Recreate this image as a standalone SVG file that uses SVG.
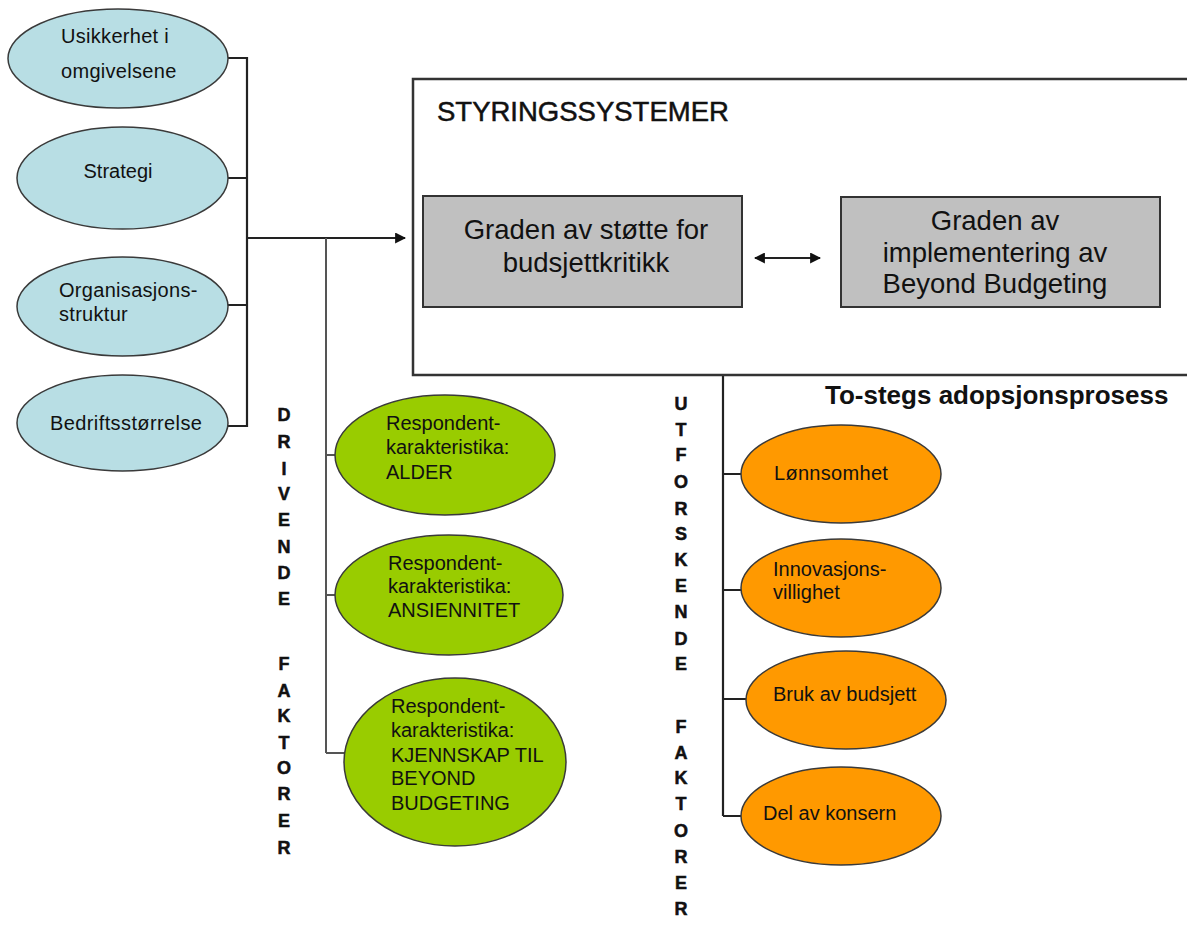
<svg xmlns="http://www.w3.org/2000/svg" width="1187" height="925" viewBox="0 0 1187 925">
<defs>
<style>
.t{font-family:"Liberation Sans",Arial,sans-serif;fill:#111;}
.e{font-size:20px;}
.g{font-size:27.5px;}
.v{font-size:18px;font-weight:bold;text-anchor:middle;stroke:#111;stroke-width:0.5;}
.blue{fill:#b8dee4;stroke:#3a3a3a;stroke-width:1.5;}
.green{fill:#99cc00;stroke:#3a3a3a;stroke-width:1.5;}
.orange{fill:#ff9900;stroke:#3a3a3a;stroke-width:1.5;}
.box{fill:#c0c0c0;stroke:#333;stroke-width:2;}
.c{fill:none;stroke:#222;stroke-width:2.2;}
.cg{fill:none;stroke:#555;stroke-width:2;}
</style>
<marker id="ah" viewBox="0 0 10 10" refX="9" refY="5" markerWidth="5" markerHeight="5" orient="auto-start-reverse" markerUnits="strokeWidth">
<path d="M0,0 L10,5 L0,10 z" fill="#111"/>
</marker>
</defs>
<rect width="1187" height="925" fill="#fff"/>

<g id="connectors">
<path class="c" d="M228,58 H247 M228,178 H247 M228,305 H247 M228,426 H247 M247,57 V427"/>
<path class="c" d="M247,238 H405" marker-end="url(#ah)"/>
<path class="cg" d="M326,238 V753 M326,455 H335 M326,595 H335 M326,753 H345"/>
<path class="c" d="M723,375 V816 M723,474 H741 M723,590 H741 M723,699 H746 M723,816 H741"/>
<path class="c" d="M755,258 H820" stroke-width="2" marker-start="url(#ah)" marker-end="url(#ah)"/>
</g>

<g id="styringssystemer">
<path d="M1190,79 H413 V375 H1190" fill="none" stroke="#333" stroke-width="2.5"/>
<text class="t" x="437" y="121" font-size="27.5" stroke="#111" stroke-width="0.5">STYRINGSSYSTEMER</text>
</g>

<g id="budsjettkritikk">
<rect class="box" x="423" y="196" width="319" height="111"/>
<text class="t g" text-anchor="middle" x="586" y="239">Graden av støtte for</text>
<text class="t g" text-anchor="middle" x="586" y="272">budsjettkritikk</text>
</g>

<g id="beyond-budgeting">
<rect class="box" x="841" y="197" width="319" height="110"/>
<text class="t g" text-anchor="middle" x="995" y="230">Graden av</text>
<text class="t g" text-anchor="middle" x="995" y="262">implementering av</text>
<text class="t g" text-anchor="middle" x="995" y="293">Beyond Budgeting</text>
</g>

<g id="usikkerhet">
<ellipse class="blue" cx="118" cy="58.5" rx="110" ry="49.5"/>
<text class="t e" x="61" y="43" letter-spacing="0.3">Usikkerhet i</text>
<text class="t e" x="61" y="78" letter-spacing="0.3">omgivelsene</text>
</g>
<g id="strategi">
<ellipse class="blue" cx="122.5" cy="178" rx="105.5" ry="51"/>
<text class="t e" x="118" y="178" text-anchor="middle">Strategi</text>
</g>
<g id="organisasjonsstruktur">
<ellipse class="blue" cx="122.5" cy="306.5" rx="105.5" ry="49.5"/>
<text class="t e" x="59" y="297" letter-spacing="0.3">Organisasjons-</text>
<text class="t e" x="59" y="321" letter-spacing="0.3">struktur</text>
</g>
<g id="bedriftsstorrelse">
<ellipse class="blue" cx="122.5" cy="423" rx="105.5" ry="48"/>
<text class="t e" x="50" y="430" letter-spacing="0.4">Bedriftsstørrelse</text>
</g>

<g id="drivende-faktorer">
<text class="t v" x="284" y="421">D</text>
<text class="t v" x="284" y="448">R</text>
<text class="t v" x="284" y="475">I</text>
<text class="t v" x="284" y="500">V</text>
<text class="t v" x="284" y="526">E</text>
<text class="t v" x="284" y="553">N</text>
<text class="t v" x="284" y="579">D</text>
<text class="t v" x="284" y="605">E</text>
<text class="t v" x="284" y="670">F</text>
<text class="t v" x="284" y="697">A</text>
<text class="t v" x="284" y="722">K</text>
<text class="t v" x="284" y="749">T</text>
<text class="t v" x="284" y="774">O</text>
<text class="t v" x="284" y="800">R</text>
<text class="t v" x="284" y="827">E</text>
<text class="t v" x="284" y="854">R</text>
</g>

<g id="alder">
<ellipse class="green" cx="445" cy="455" rx="110" ry="60"/>
<text class="t e" x="386" y="430">Respondent-</text>
<text class="t e" x="386" y="454">karakteristika:</text>
<text class="t e" x="386" y="479">ALDER</text>
</g>
<g id="ansiennitet">
<ellipse class="green" cx="449" cy="595" rx="114" ry="60"/>
<text class="t e" x="388" y="570">Respondent-</text>
<text class="t e" x="388" y="593">karakteristika:</text>
<text class="t e" x="388" y="617">ANSIENNITET</text>
</g>
<g id="kjennskap">
<ellipse class="green" cx="455" cy="762" rx="111" ry="84"/>
<text class="t e" x="391" y="713">Respondent-</text>
<text class="t e" x="391" y="737">karakteristika:</text>
<text class="t e" x="391" y="762">KJENNSKAP TIL</text>
<text class="t e" x="391" y="785">BEYOND</text>
<text class="t e" x="391" y="810">BUDGETING</text>
</g>

<g id="to-stegs">
<text class="t" x="825" y="404" font-size="26" font-weight="bold">To-stegs adopsjonsprosess</text>
</g>

<g id="utforskende-faktorer">
<text class="t v" x="681" y="410">U</text>
<text class="t v" x="681" y="436">T</text>
<text class="t v" x="681" y="461">F</text>
<text class="t v" x="681" y="488">O</text>
<text class="t v" x="681" y="515">R</text>
<text class="t v" x="681" y="540">S</text>
<text class="t v" x="681" y="566">K</text>
<text class="t v" x="681" y="592">E</text>
<text class="t v" x="681" y="618">N</text>
<text class="t v" x="681" y="645">D</text>
<text class="t v" x="681" y="670">E</text>
<text class="t v" x="681" y="733">F</text>
<text class="t v" x="681" y="759">A</text>
<text class="t v" x="681" y="784">K</text>
<text class="t v" x="681" y="810">T</text>
<text class="t v" x="681" y="837">O</text>
<text class="t v" x="681" y="863">R</text>
<text class="t v" x="681" y="889">E</text>
<text class="t v" x="681" y="915">R</text>
</g>

<g id="lonnsomhet">
<ellipse class="orange" cx="841" cy="474" rx="100" ry="49"/>
<text class="t e" x="774" y="480" letter-spacing="0.3">Lønnsomhet</text>
</g>
<g id="innovasjonsvillighet">
<ellipse class="orange" cx="841" cy="588" rx="100" ry="49"/>
<text class="t e" x="773" y="576">Innovasjons-</text>
<text class="t e" x="773" y="599">villighet</text>
</g>
<g id="bruk-av-budsjett">
<ellipse class="orange" cx="846" cy="700" rx="100" ry="49"/>
<text class="t e" x="773" y="701">Bruk av budsjett</text>
</g>
<g id="del-av-konsern">
<ellipse class="orange" cx="841" cy="816" rx="100" ry="49"/>
<text class="t e" x="763" y="820">Del av konsern</text>
</g>
</svg>
